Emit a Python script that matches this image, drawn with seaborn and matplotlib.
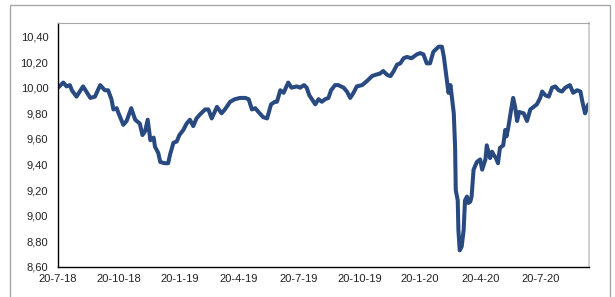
import pandas as pd
import matplotlib
matplotlib.use('Agg')
import matplotlib.pyplot as plt
from matplotlib.patches import Rectangle
import seaborn as sns

# days after 20-7-2018 and the value
day_offset = [0, 8, 13, 18, 21, 28, 38, 49, 56, 64, 71, 76, 81, 84, 89, 91, 99, 104, 111, 117,
              124, 128, 132, 136, 140, 145, 147, 152, 155, 162, 167, 170, 175, 180, 184, 190, 195,
              200, 205, 210, 215, 223, 228, 233, 241, 248, 253, 261, 268, 276, 284, 289, 294, 299,
              304, 311, 317, 323, 329, 332, 337, 342, 349, 354, 362, 367, 373, 377, 381, 385, 390,
              395, 400, 405, 410, 414, 420, 425, 433, 438, 443, 448, 453, 461, 468, 476, 481, 488,
              493, 499, 504, 509, 514, 519, 524, 529, 536, 544, 549, 554, 559, 564, 569, 577, 582,
              585, 590, 592, 595, 597, 600, 602, 603, 606, 607, 609, 612, 615, 617, 620, 622, 625,
              627, 630, 635, 640, 643, 648, 650, 655, 658, 660, 664, 667, 670, 675, 678, 680, 683,
              687, 690, 693, 696, 699, 706, 711, 716, 721, 726, 731, 734, 739, 744, 749, 754, 759,
              764, 769, 776, 781, 787, 792, 795, 799, 804]
values = [10.00, 10.04, 10.01, 10.02, 9.98, 9.93, 10.01, 9.92, 9.93, 10.02, 9.98, 9.98, 9.91, 9.83,
          9.84, 9.81, 9.71, 9.74, 9.84, 9.75, 9.72, 9.63, 9.66, 9.75, 9.59, 9.61, 9.54, 9.49, 9.42,
          9.41, 9.41, 9.48, 9.57, 9.58, 9.63, 9.67, 9.72, 9.75, 9.70, 9.76, 9.79, 9.83, 9.83, 9.76,
          9.85, 9.80, 9.83, 9.89, 9.91, 9.92, 9.92, 9.91, 9.83, 9.84, 9.81, 9.77, 9.76, 9.87, 9.89,
          9.89, 9.98, 9.96, 10.04, 10.00, 10.01, 10.00, 10.02, 10.00, 9.94, 9.91, 9.87, 9.91, 9.89,
          9.91, 9.92, 9.98, 10.02, 10.02, 10.00, 9.97, 9.92, 9.96, 10.01, 10.02, 10.05, 10.09, 10.10,
          10.11, 10.13, 10.10, 10.09, 10.13, 10.18, 10.19, 10.23, 10.24, 10.23, 10.26, 10.27, 10.26,
          10.19, 10.19, 10.28, 10.32, 10.32, 10.24, 10.04, 9.96, 10.02, 9.93, 9.80, 9.54, 9.20, 9.12,
          8.89, 8.73, 8.76, 8.89, 9.12, 9.15, 9.10, 9.11, 9.15, 9.36, 9.42, 9.44, 9.36, 9.44, 9.55,
          9.45, 9.50, 9.48, 9.45, 9.41, 9.53, 9.55, 9.67, 9.62, 9.70, 9.83, 9.92, 9.85, 9.74, 9.81,
          9.80, 9.74, 9.83, 9.85, 9.87, 9.92, 9.97, 9.94, 9.93, 10.00, 10.01, 9.98, 9.97, 10.00,
          10.02, 9.96, 9.98, 9.97, 9.89, 9.80, 9.87]

tick_dates = ['2018-07-20', '2018-10-20', '2019-01-20', '2019-04-20', '2019-07-20',
              '2019-10-20', '2020-01-20', '2020-04-20', '2020-07-20']
tick_labels = ['20-7-18', '20-10-18', '20-1-19', '20-4-19', '20-7-19',
               '20-10-19', '20-1-20', '20-4-20', '20-7-20']
y_ticks = [8.6, 8.8, 9.0, 9.2, 9.4, 9.6, 9.8, 10.0, 10.2, 10.4]

start = pd.Timestamp('2018-07-20')
df = pd.DataFrame({'date': start + pd.to_timedelta(day_offset, unit='D'), 'value': values})

sns.set_style('white')
plt.rcParams['font.family'] = ['Liberation Sans', 'DejaVu Sans']

fig = plt.figure(figsize=(6.15, 2.97), dpi=100)
ax = fig.add_axes([58 / 615, 1 - 267 / 297, (589 - 58) / 615, (267 - 23) / 297])

sns.lineplot(data=df, x='date', y='value', ax=ax, color='#284A80', linewidth=2.9)

ax.set_xlim(start, start + pd.Timedelta(days=805))
ax.set_ylim(8.6, 10.505)
ax.set_yticks(y_ticks)
ax.set_yticklabels([f'{v:.2f}'.replace('.', ',') for v in y_ticks])
ax.set_xticks(pd.to_datetime(tick_dates))
ax.set_xticklabels(tick_labels)
ax.set_xlabel('')
ax.set_ylabel('')

ax.tick_params(axis='y', length=0, labelsize=8, colors='#222222', pad=7)
ax.tick_params(axis='x', length=3, width=0.8, direction='out', color='black',
               labelsize=8, labelcolor='#222222', pad=2)

ax.spines['left'].set_color('black')
ax.spines['bottom'].set_color('black')
ax.spines['left'].set_linewidth(1)
ax.spines['bottom'].set_linewidth(1)
ax.spines['top'].set_color('#a6a6a6')
ax.spines['right'].set_color('#d0d0d0')
ax.spines['right'].set_linewidth(1.5)

# outer frame of the chart area
fig.patches.append(Rectangle((10 / 615, -0.1), 600 / 615, 1.1 - 5 / 297, transform=fig.transFigure,
                             fill=False, edgecolor='#a6a6a6', linewidth=1))

fig.savefig('out.png', dpi=100)
